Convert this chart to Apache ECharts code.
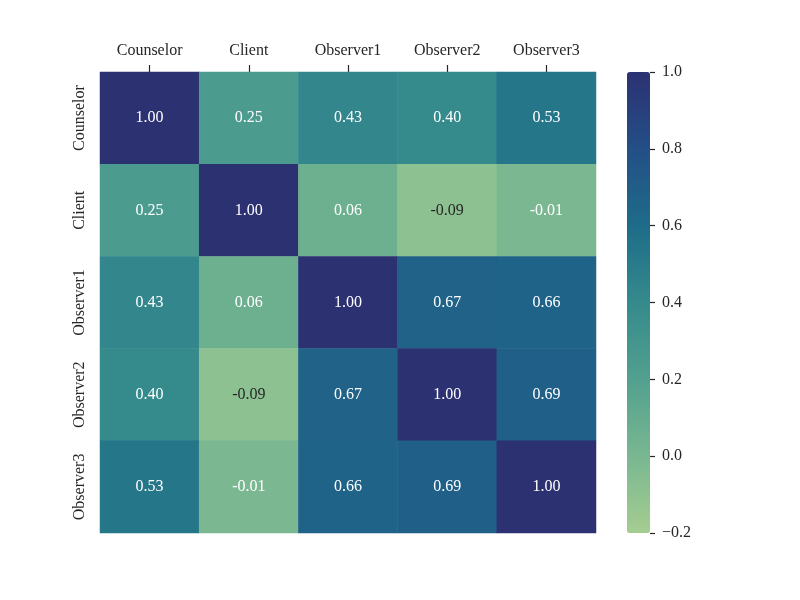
<!DOCTYPE html>
<html>
<head>
<meta charset="utf-8">
<script src="https://cdn.jsdelivr.net/npm/echarts@6/dist/echarts.min.js"></script>
<style>html,body{margin:0;padding:0;background:#fff;}#c{width:800px;height:600px;}</style>
</head>
<body>
<div id="c"></div>
<script>
const categories = ['Counselor', 'Client', 'Observer1', 'Observer2', 'Observer3'];
const matrix = [
  [1.00, 0.25, 0.43, 0.40, 0.53],
  [0.25, 1.00, 0.06, -0.09, -0.01],
  [0.43, 0.06, 1.00, 0.67, 0.66],
  [0.40, -0.09, 0.67, 1.00, 0.69],
  [0.53, -0.01, 0.66, 0.69, 1.00]
];
const colorbarTicks = [-0.2, 0.0, 0.2, 0.4, 0.6, 0.8, 1.0];
const crest = ['#a5cd90', '#79b791', '#52a08e', '#358a8c', '#1e6c89', '#234f86', '#2c3172'];

const FONT = '"Liberation Serif", "Times New Roman", serif';
const data = [];
matrix.forEach((row, i) => row.forEach((v, j) => {
  data.push({
    value: [j, i, v],
    label: { color: v < -0.05 ? '#262626' : '#ffffff' }
  });
}));

const chart = echarts.init(document.getElementById('c'));
chart.setOption({
  backgroundColor: '#fff',
  textStyle: { fontFamily: FONT },
  grid: [
    { left: 100, top: 72, width: 496, height: 461 },
    { left: 627, top: 72, width: 23, height: 461 }
  ],
  xAxis: [
    {
      type: 'category', data: categories, position: 'top', gridIndex: 0,
      axisLine: { show: false },
      axisTick: { show: true, length: 7, alignWithLabel: true, lineStyle: { color: '#262626', width: 1.2 } },
      axisLabel: { fontFamily: FONT, fontSize: 16, color: '#262626', margin: 13, interval: 0 },
      splitLine: { show: false }
    },
    {
      type: 'category', gridIndex: 1, show: false, data: ['']
    }
  ],
  yAxis: [
    {
      type: 'category', data: categories, inverse: true, gridIndex: 0,
      axisLine: { show: false },
      axisTick: { show: false },
      axisLabel: { fontFamily: FONT, fontSize: 16, color: '#262626', rotate: 90, margin: 12, interval: 0 },
      splitLine: { show: false }
    },
    {
      type: 'value', gridIndex: 1, position: 'right', min: colorbarTicks[0], max: colorbarTicks[colorbarTicks.length - 1], interval: 0.2,
      axisLine: { show: false, onZero: false },
      axisTick: { show: true, length: 5, lineStyle: { color: '#262626', width: 1.2 } },
      axisLabel: {
        fontFamily: FONT, fontSize: 16, color: '#262626', margin: 12,
        verticalAlign: 'middle', padding: [4, 0, 0, 0],
        formatter: v => (Math.round(v * 10) / 10).toFixed(1).replace('-', '\u2212')
      },
      splitLine: { show: false }
    }
  ],
  visualMap: {
    type: 'continuous', min: -0.2, max: 1.0, seriesIndex: 0,
    calculable: false, realtime: false,
    left: 627, top: 72, itemWidth: 23, itemHeight: 461, padding: 0,
    showLabel: false, text: null,
    inRange: { color: crest }
  },
  series: [{
    type: 'heatmap', xAxisIndex: 0, yAxisIndex: 0,
    data: data,
    label: {
      show: true, fontFamily: FONT, fontSize: 16,
      formatter: p => p.value[2].toFixed(2)
    },
    itemStyle: { borderWidth: 0 },
    emphasis: { disabled: true }
  }]
});
</script>
</body>
</html>
